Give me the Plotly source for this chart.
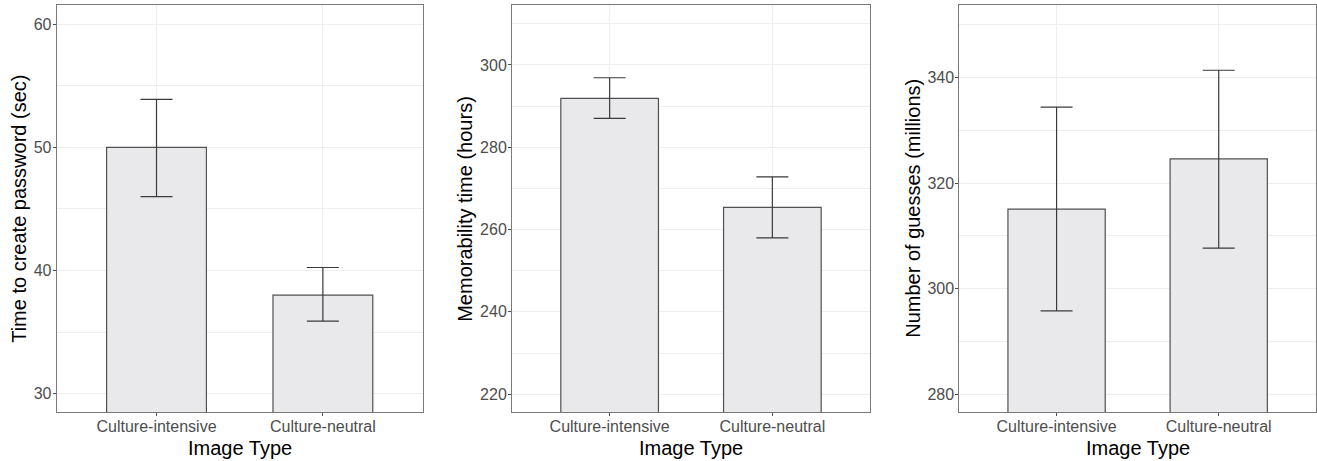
import plotly.graph_objects as go

W, H = 1317, 461

categories = ["Culture-intensive", "Culture-neutral"]

time_means = [50.0, 38.0]
time_upper = [53.9, 40.25]
time_lower = [46.0, 35.9]

memo_means = [291.9, 265.4]
memo_upper = [296.9, 272.8]
memo_lower = [287.0, 258.0]

guess_means = [315.1, 324.6]
guess_upper = [334.4, 341.4]
guess_lower = [295.8, 307.7]

y_titles = ["Time to create password (sec)", "Memorability time (hours)", "Number of guesses (millions)"]
x_title = "Image Type"

y_ranges = [[28.49, 61.54], [215.6, 314.5], [276.6, 353.7]]
y_ticks = [[30, 40, 50, 60], [220, 240, 260, 280, 300], [280, 300, 320, 340]]
y_minor = [5, 10, 10]

# panel pixel boxes (left, right)
panels_px = [(56.7, 422.7), (512.0, 870.0), (959.3, 1316.0)]
top_px, bottom_px = 5.3, 412.3
ytitle_x_px = [19, 465, 913]

FONT = "Liberation Sans, Arial, sans-serif"
BAR_FILL = "#e9e9eb"
BAR_LINE = "#505050"
ERR_COL = "#3a3a3a"
GRID = "#eeeeee"
BORDER = "#7a7a7a"
TICKCOL = "#4d4d4d"

series = [
    (time_means, time_upper, time_lower),
    (memo_means, memo_upper, memo_lower),
    (guess_means, guess_upper, guess_lower),
]

fig = go.Figure()
layout = dict(
    width=W, height=H,
    margin=dict(l=0, r=0, t=0, b=0),
    paper_bgcolor="white", plot_bgcolor="white",
    showlegend=False,
    font=dict(family=FONT),
    annotations=[],
)

ydom = [1 - bottom_px / H, 1 - top_px / H]

for i, (means, up, lo) in enumerate(series):
    n = "" if i == 0 else str(i + 1)
    xa, ya = "x" + n, "y" + n
    fig.add_trace(go.Bar(
        x=categories, y=means, xaxis=xa, yaxis=ya,
        width=0.6,
        marker=dict(color=BAR_FILL, line=dict(color=BAR_LINE, width=1.2)),
        error_y=dict(type="data", symmetric=False,
                     array=[u - m for u, m in zip(up, means)],
                     arrayminus=[m - l for m, l in zip(means, lo)],
                     color=ERR_COL, thickness=1.2, width=16),
        hoverinfo="skip",
    ))
    l, r = panels_px[i]
    layout["xaxis" + n] = dict(
        domain=[l / W, r / W], anchor=ya,
        type="category", range=[-0.6, 1.6],
        showgrid=True, gridcolor=GRID, gridwidth=1,
        showline=True, mirror=True, linecolor=BORDER, linewidth=1,
        ticks="outside", ticklen=3, tickcolor=TICKCOL, tickwidth=1,
        ticklabelstandoff=-4,
        tickfont=dict(size=16, color=TICKCOL, family=FONT),
        zeroline=False, fixedrange=True,
    )
    layout["yaxis" + n] = dict(
        domain=ydom, anchor=xa,
        range=y_ranges[i], tickvals=y_ticks[i],
        showgrid=True, gridcolor=GRID, gridwidth=1,
        minor=dict(dtick=y_minor[i], tick0=y_ticks[i][0], showgrid=True,
                   gridcolor=GRID, gridwidth=0.6),
        showline=True, mirror=True, linecolor=BORDER, linewidth=1,
        ticks="outside", ticklen=3, tickcolor=TICKCOL, tickwidth=1,
        ticklabelstandoff=-2,
        tickfont=dict(size=16, color=TICKCOL, family=FONT),
        zeroline=False, fixedrange=True,
    )
    layout["annotations"].append(dict(
        text=y_titles[i], xref="paper", yref="paper",
        x=ytitle_x_px[i] / W, y=1 - ((top_px + bottom_px) / 2) / H,
        xanchor="center", yanchor="middle", textangle=-90, showarrow=False,
        font=dict(size=20, color="black", family=FONT),
    ))
    layout["annotations"].append(dict(
        text=x_title, xref="paper", yref="paper",
        x=((l + r) / 2) / W, y=1 - 448 / H,
        xanchor="center", yanchor="middle", showarrow=False,
        font=dict(size=20, color="black", family=FONT),
    ))

fig.update_layout(**layout)
fig.write_html(
    "out.html",
    config={"displayModeBar": False},
    post_script="document.body.style.margin='0';document.body.style.overflow='hidden';",
)
